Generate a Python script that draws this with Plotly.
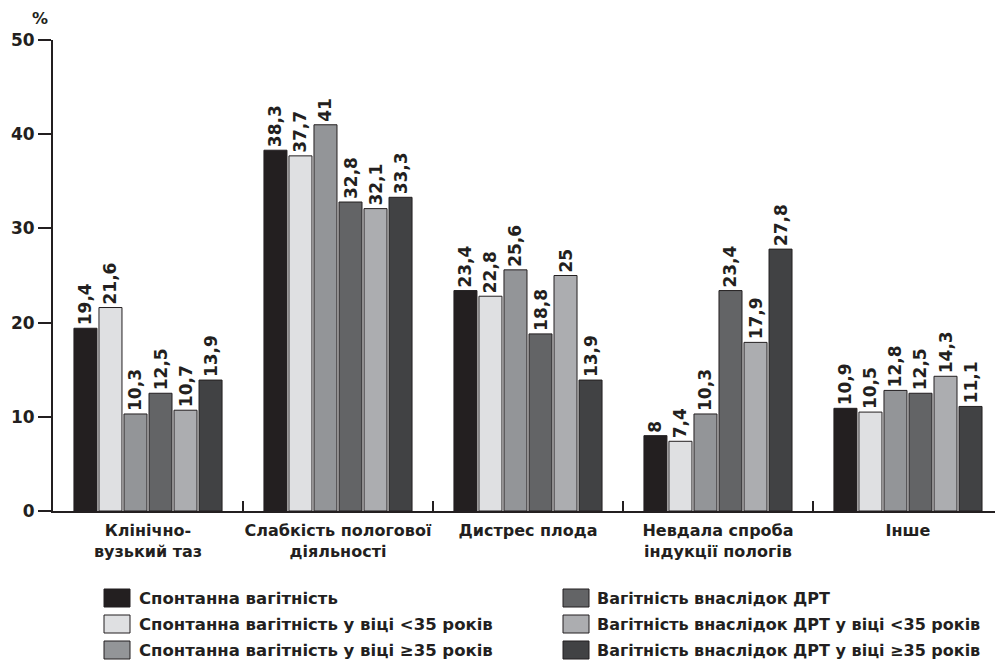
import plotly.graph_objects as go

categories = ["Клінічно-<br>вузький таз", "Слабкість пологової<br>діяльності", "Дистрес плода",
              "Невдала спроба<br>індукції пологів", "Інше"]
series_names = [
    "Спонтанна вагітність",
    "Спонтанна вагітність у віці <35 років",
    "Спонтанна вагітність у віці ≥35 років",
    "Вагітність внаслідок ДРТ",
    "Вагітність внаслідок ДРТ у віці <35 років",
    "Вагітність внаслідок ДРТ у віці ≥35 років",
]
s1 = [19.4, 38.3, 23.4, 8, 10.9]
s2 = [21.6, 37.7, 22.8, 7.4, 10.5]
s3 = [10.3, 41, 25.6, 10.3, 12.8]
s4 = [12.5, 32.8, 18.8, 23.4, 12.5]
s5 = [10.7, 32.1, 25, 17.9, 14.3]
s6 = [13.9, 33.3, 13.9, 27.8, 11.1]
series_values = [s1, s2, s3, s4, s5, s6]
colors = ["#231f20", "#dfe0e2", "#939598", "#636466", "#acadb0", "#414244"]
y_ticks = [0, 10, 20, 30, 40, 50]

W, H = 995, 663
L, R, T, B = 53, 0, 40, 152
INK = "#231f20"
FONT = "DejaVu Sans"


def fmt(v):
    s = ("%g" % v)
    return s.replace(".", ",")


fig = go.Figure()
for name, vals, col in zip(series_names, series_values, colors):
    fig.add_trace(go.Bar(
        x=categories, y=vals, name=name,
        marker=dict(color=col, line=dict(color=INK, width=1)),
        text=[fmt(v) for v in vals], textposition="outside", textangle=-90,
        constraintext="none", cliponaxis=False,
        textfont=dict(family=FONT, size=17, color=INK, weight="bold"),
        showlegend=False,
    ))

pw = W - L - R
ph = H - T - B


def px2x(px):
    return (px - L) / pw


def py2y(py):
    return (H - B - py) / ph


shapes = []
annotations = []
col_x = [(104, 137, 16.5), (563, 595, 16)]
row_y = [598, 624, 650]
for i, (name, col) in enumerate(zip(series_names, colors)):
    c = i // 3
    r = i % 3
    sx, tx, fs = col_x[c]
    cy = row_y[r]
    shapes.append(dict(type="rect", xref="paper", yref="paper",
                       x0=px2x(sx), x1=px2x(sx + 26), y0=py2y(cy - 9), y1=py2y(cy + 9),
                       fillcolor=col, line=dict(color=INK, width=1)))
    annotations.append(dict(xref="paper", yref="paper", x=px2x(tx), y=py2y(cy),
                            xanchor="left", yanchor="middle", showarrow=False,
                            text=name.replace("<", "&lt;"),
                            font=dict(family=FONT, size=fs, color=INK, weight="bold")))

annotations.append(dict(xref="paper", yref="paper", x=px2x(40), y=py2y(18),
                        xanchor="center", yanchor="middle", showarrow=False, text="%",
                        font=dict(family=FONT, size=16, color=INK, weight="bold")))

fig.update_layout(
    width=W, height=H,
    margin=dict(l=L, r=R, t=T, b=B, pad=0),
    paper_bgcolor="white", plot_bgcolor="white",
    barmode="group", bargap=0.21, bargroupgap=0.08,
    shapes=shapes, annotations=annotations,
    xaxis=dict(
        range=[-0.5, 4.458], showgrid=False, zeroline=False,
        showline=True, linecolor=INK, linewidth=2,
        ticks="inside", tickson="boundaries", ticklen=10, tickwidth=2, tickcolor=INK,
        tickangle=0, ticklabelstandoff=4,
        tickfont=dict(family=FONT, size=16, color=INK, weight="bold"),
    ),
    yaxis=dict(
        range=[0, 50], tickvals=y_ticks, showgrid=False, zeroline=False,
        showline=True, linecolor=INK, linewidth=2,
        ticks="outside", ticklen=13, tickwidth=2, tickcolor=INK,
        tickfont=dict(family=FONT, size=17, color=INK, weight="bold"),
    ),
)

fig.write_html("out.html")
